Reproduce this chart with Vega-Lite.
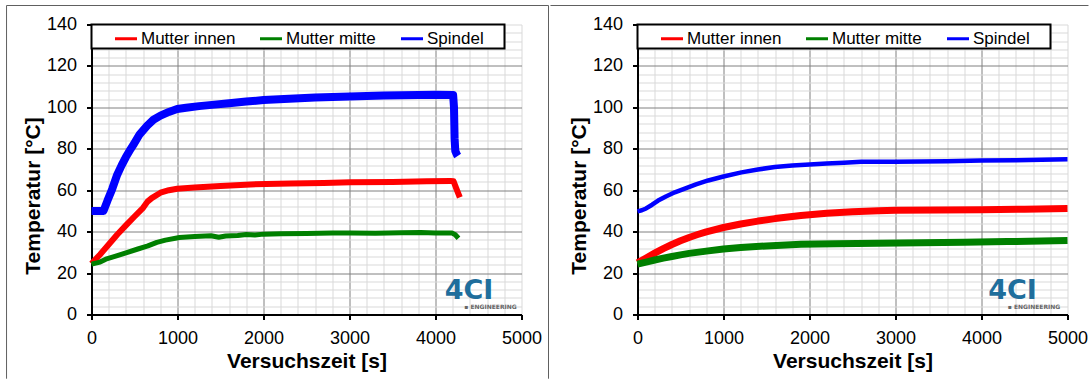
{
  "$schema": "https://vega.github.io/schema/vega-lite/v6.json",
  "background": "white",
  "padding": {"left": 5.5, "top": 4.5, "right": 0, "bottom": 0},
  "spacing": 0,
  "config": {
    "font": "Liberation Sans",
    "view": {"stroke": null},
    "axis": {
      "domainColor": "black", "domainWidth": 2,
      "tickColor": "black", "tickWidth": 2, "tickSize": 5,
      "labelFont": "Liberation Sans", "labelFontSize": 18, "labelColor": "black", "labelPadding": 10,
      "labelOverlap": false, "labelFlush": false, "labelBound": false,
      "titleFont": "Liberation Sans", "titleFontSize": 21, "titleFontWeight": "bold", "titleColor": "black",
      "gridWidth": 1, "gridOpacity": 1
    },
    "legend": {
      "fillColor": "white", "strokeColor": "black", "strokeWidth": 2, "padding": 1.5, "cornerRadius": 0,
      "labelFont": "Liberation Sans", "labelFontSize": 17, "labelColor": "black", "labelLimit": 300,
      "symbolType": "stroke", "symbolSize": 484, "symbolStrokeWidth": 3, "labelOffset": 2.5, "columnPadding": 18
    }
  },
  "resolve": {"scale": {"color": "independent"}, "legend": {"color": "independent"}},
  "datasets": {
    "links": [
      {"serie": "Spindel", "zeit": 0, "temp": 50}, {"serie": "Spindel", "zeit": 140, "temp": 50}, {"serie": "Spindel", "zeit": 186, "temp": 55}, {"serie": "Spindel", "zeit": 240, "temp": 60.5}, {"serie": "Spindel", "zeit": 299, "temp": 67.5}, {"serie": "Spindel", "zeit": 350, "temp": 72}, {"serie": "Spindel", "zeit": 400, "temp": 76}, {"serie": "Spindel", "zeit": 450, "temp": 79.5}, {"serie": "Spindel", "zeit": 492, "temp": 82.3}, {"serie": "Spindel", "zeit": 560, "temp": 87}, {"serie": "Spindel", "zeit": 648, "temp": 91.2}, {"serie": "Spindel", "zeit": 720, "temp": 94}, {"serie": "Spindel", "zeit": 802, "temp": 96}, {"serie": "Spindel", "zeit": 900, "temp": 97.8}, {"serie": "Spindel", "zeit": 996, "temp": 99.2}, {"serie": "Spindel", "zeit": 1100, "temp": 99.8}, {"serie": "Spindel", "zeit": 1250, "temp": 100.6}, {"serie": "Spindel", "zeit": 1400, "temp": 101.2}, {"serie": "Spindel", "zeit": 1600, "temp": 102}, {"serie": "Spindel", "zeit": 1800, "temp": 102.8}, {"serie": "Spindel", "zeit": 2000, "temp": 103.5}, {"serie": "Spindel", "zeit": 2300, "temp": 104.2}, {"serie": "Spindel", "zeit": 2600, "temp": 104.7}, {"serie": "Spindel", "zeit": 3000, "temp": 105.3}, {"serie": "Spindel", "zeit": 3400, "temp": 105.7}, {"serie": "Spindel", "zeit": 3800, "temp": 106}, {"serie": "Spindel", "zeit": 4000, "temp": 106.1}, {"serie": "Spindel", "zeit": 4205, "temp": 106}, {"serie": "Spindel", "zeit": 4215, "temp": 100}, {"serie": "Spindel", "zeit": 4222, "temp": 85}, {"serie": "Spindel", "zeit": 4230, "temp": 79}, {"serie": "Spindel", "zeit": 4250, "temp": 77}, {"serie": "Spindel", "zeit": 4258, "temp": 76.5},
      {"serie": "Mutter innen", "zeit": 0, "temp": 24.5}, {"serie": "Mutter innen", "zeit": 100, "temp": 29}, {"serie": "Mutter innen", "zeit": 200, "temp": 33.8}, {"serie": "Mutter innen", "zeit": 300, "temp": 38.6}, {"serie": "Mutter innen", "zeit": 400, "temp": 43}, {"serie": "Mutter innen", "zeit": 500, "temp": 47.3}, {"serie": "Mutter innen", "zeit": 600, "temp": 51.5}, {"serie": "Mutter innen", "zeit": 651, "temp": 54.5}, {"serie": "Mutter innen", "zeit": 700, "temp": 56.2}, {"serie": "Mutter innen", "zeit": 802, "temp": 58.8}, {"serie": "Mutter innen", "zeit": 900, "temp": 60}, {"serie": "Mutter innen", "zeit": 996, "temp": 60.7}, {"serie": "Mutter innen", "zeit": 1200, "temp": 61.3}, {"serie": "Mutter innen", "zeit": 1500, "temp": 62}, {"serie": "Mutter innen", "zeit": 1849, "temp": 62.8}, {"serie": "Mutter innen", "zeit": 2314, "temp": 63.3}, {"serie": "Mutter innen", "zeit": 2700, "temp": 63.5}, {"serie": "Mutter innen", "zeit": 3012, "temp": 63.8}, {"serie": "Mutter innen", "zeit": 3500, "temp": 64}, {"serie": "Mutter innen", "zeit": 3900, "temp": 64.3}, {"serie": "Mutter innen", "zeit": 4174, "temp": 64.5}, {"serie": "Mutter innen", "zeit": 4210, "temp": 64.3}, {"serie": "Mutter innen", "zeit": 4240, "temp": 61}, {"serie": "Mutter innen", "zeit": 4283, "temp": 56.5},
      {"serie": "Mutter mitte", "zeit": 0, "temp": 24.3}, {"serie": "Mutter mitte", "zeit": 100, "temp": 25.3}, {"serie": "Mutter mitte", "zeit": 166, "temp": 26.7}, {"serie": "Mutter mitte", "zeit": 300, "temp": 28.4}, {"serie": "Mutter mitte", "zeit": 410, "temp": 29.9}, {"serie": "Mutter mitte", "zeit": 530, "temp": 31.5}, {"serie": "Mutter mitte", "zeit": 656, "temp": 33.1}, {"serie": "Mutter mitte", "zeit": 760, "temp": 34.8}, {"serie": "Mutter mitte", "zeit": 860, "temp": 35.9}, {"serie": "Mutter mitte", "zeit": 1023, "temp": 37.2}, {"serie": "Mutter mitte", "zeit": 1200, "temp": 37.6}, {"serie": "Mutter mitte", "zeit": 1390, "temp": 38}, {"serie": "Mutter mitte", "zeit": 1480, "temp": 37.3}, {"serie": "Mutter mitte", "zeit": 1560, "temp": 37.9}, {"serie": "Mutter mitte", "zeit": 1700, "temp": 38.1}, {"serie": "Mutter mitte", "zeit": 1800, "temp": 38.6}, {"serie": "Mutter mitte", "zeit": 1900, "temp": 38.4}, {"serie": "Mutter mitte", "zeit": 2000, "temp": 38.8}, {"serie": "Mutter mitte", "zeit": 2203, "temp": 39}, {"serie": "Mutter mitte", "zeit": 2500, "temp": 39.1}, {"serie": "Mutter mitte", "zeit": 2800, "temp": 39.3}, {"serie": "Mutter mitte", "zeit": 3012, "temp": 39.4}, {"serie": "Mutter mitte", "zeit": 3300, "temp": 39.2}, {"serie": "Mutter mitte", "zeit": 3600, "temp": 39.5}, {"serie": "Mutter mitte", "zeit": 3830, "temp": 39.6}, {"serie": "Mutter mitte", "zeit": 4000, "temp": 39.4}, {"serie": "Mutter mitte", "zeit": 4195, "temp": 39.3}, {"serie": "Mutter mitte", "zeit": 4230, "temp": 38.5}, {"serie": "Mutter mitte", "zeit": 4267, "temp": 36.8}
    ],
    "rechts": [
      {"serie": "Spindel", "zeit": 0, "temp": 49.8}, {"serie": "Spindel", "zeit": 50, "temp": 50.3}, {"serie": "Spindel", "zeit": 100, "temp": 51.2}, {"serie": "Spindel", "zeit": 170, "temp": 53}, {"serie": "Spindel", "zeit": 240, "temp": 55}, {"serie": "Spindel", "zeit": 330, "temp": 57}, {"serie": "Spindel", "zeit": 434, "temp": 59}, {"serie": "Spindel", "zeit": 550, "temp": 60.8}, {"serie": "Spindel", "zeit": 680, "temp": 62.8}, {"serie": "Spindel", "zeit": 822, "temp": 64.7}, {"serie": "Spindel", "zeit": 1000, "temp": 66.6}, {"serie": "Spindel", "zeit": 1209, "temp": 68.6}, {"serie": "Spindel", "zeit": 1400, "temp": 70}, {"serie": "Spindel", "zeit": 1597, "temp": 71.2}, {"serie": "Spindel", "zeit": 1800, "temp": 71.9}, {"serie": "Spindel", "zeit": 2000, "temp": 72.4}, {"serie": "Spindel", "zeit": 2200, "temp": 72.9}, {"serie": "Spindel", "zeit": 2400, "temp": 73.3}, {"serie": "Spindel", "zeit": 2600, "temp": 73.7}, {"serie": "Spindel", "zeit": 2800, "temp": 73.8}, {"serie": "Spindel", "zeit": 3000, "temp": 73.8}, {"serie": "Spindel", "zeit": 3300, "temp": 73.9}, {"serie": "Spindel", "zeit": 3600, "temp": 74}, {"serie": "Spindel", "zeit": 4000, "temp": 74.3}, {"serie": "Spindel", "zeit": 4400, "temp": 74.5}, {"serie": "Spindel", "zeit": 4700, "temp": 74.7}, {"serie": "Spindel", "zeit": 5000, "temp": 75},
      {"serie": "Mutter innen", "zeit": 0, "temp": 25}, {"serie": "Mutter innen", "zeit": 100, "temp": 27.3}, {"serie": "Mutter innen", "zeit": 200, "temp": 29.6}, {"serie": "Mutter innen", "zeit": 300, "temp": 31.8}, {"serie": "Mutter innen", "zeit": 400, "temp": 33.8}, {"serie": "Mutter innen", "zeit": 500, "temp": 35.6}, {"serie": "Mutter innen", "zeit": 600, "temp": 37.2}, {"serie": "Mutter innen", "zeit": 700, "temp": 38.6}, {"serie": "Mutter innen", "zeit": 800, "temp": 39.9}, {"serie": "Mutter innen", "zeit": 1000, "temp": 42}, {"serie": "Mutter innen", "zeit": 1200, "temp": 43.7}, {"serie": "Mutter innen", "zeit": 1400, "temp": 45.1}, {"serie": "Mutter innen", "zeit": 1600, "temp": 46.3}, {"serie": "Mutter innen", "zeit": 1900, "temp": 47.8}, {"serie": "Mutter innen", "zeit": 2200, "temp": 48.9}, {"serie": "Mutter innen", "zeit": 2500, "temp": 49.6}, {"serie": "Mutter innen", "zeit": 2800, "temp": 50.1}, {"serie": "Mutter innen", "zeit": 3000, "temp": 50.3}, {"serie": "Mutter innen", "zeit": 3500, "temp": 50.4}, {"serie": "Mutter innen", "zeit": 4000, "temp": 50.6}, {"serie": "Mutter innen", "zeit": 4500, "temp": 50.8}, {"serie": "Mutter innen", "zeit": 5000, "temp": 51.2},
      {"serie": "Mutter mitte", "zeit": 0, "temp": 24.3}, {"serie": "Mutter mitte", "zeit": 100, "temp": 25.3}, {"serie": "Mutter mitte", "zeit": 200, "temp": 26.3}, {"serie": "Mutter mitte", "zeit": 300, "temp": 27.2}, {"serie": "Mutter mitte", "zeit": 400, "temp": 28}, {"serie": "Mutter mitte", "zeit": 500, "temp": 28.8}, {"serie": "Mutter mitte", "zeit": 600, "temp": 29.5}, {"serie": "Mutter mitte", "zeit": 800, "temp": 30.6}, {"serie": "Mutter mitte", "zeit": 1000, "temp": 31.6}, {"serie": "Mutter mitte", "zeit": 1200, "temp": 32.3}, {"serie": "Mutter mitte", "zeit": 1500, "temp": 33.1}, {"serie": "Mutter mitte", "zeit": 1900, "temp": 33.9}, {"serie": "Mutter mitte", "zeit": 2300, "temp": 34.2}, {"serie": "Mutter mitte", "zeit": 2800, "temp": 34.4}, {"serie": "Mutter mitte", "zeit": 3300, "temp": 34.6}, {"serie": "Mutter mitte", "zeit": 3800, "temp": 34.9}, {"serie": "Mutter mitte", "zeit": 4300, "temp": 35.2}, {"serie": "Mutter mitte", "zeit": 4700, "temp": 35.5}, {"serie": "Mutter mitte", "zeit": 5000, "temp": 35.7}
    ]
  },
  "hconcat": [
    {
      "width": 430, "height": 290,
      "layer": [
        {
          "data": {"values": [{}]},
          "mark": {"type": "rule", "color": "#606060", "strokeWidth": 1},
          "encoding": {
            "x": {"datum": -988, "type": "quantitative", "scale": {"domain": [0, 5000], "nice": false}},
            "y": {"datum": 149.17, "type": "quantitative", "scale": {"domain": [0, 140], "nice": false}},
            "y2": {"datum": -31}
          }
        },
        {
          "data": {"values": [{}]},
          "mark": {"type": "rule", "color": "#606060", "strokeWidth": 1},
          "encoding": {
            "x": {"datum": -988, "type": "quantitative", "scale": {"domain": [0, 5000], "nice": false}},
            "x2": {"datum": 5314},
            "y": {"datum": 149.17, "type": "quantitative", "scale": {"domain": [0, 140], "nice": false}}
          }
        },
        {
          "data": {"values": [{}]},
          "mark": {"type": "rule", "color": "#606060", "strokeWidth": 1},
          "encoding": {
            "x": {"datum": 5314, "type": "quantitative", "scale": {"domain": [0, 5000], "nice": false}},
            "y": {"datum": 149.17, "type": "quantitative", "scale": {"domain": [0, 140], "nice": false}},
            "y2": {"datum": -31}
          }
        },
        {
          "data": {"name": "links"},
          "mark": {"type": "line", "strokeJoin": "round"},
          "encoding": {
            "x": {"field": "zeit", "type": "quantitative", "scale": {"domain": [0, 5000], "nice": false},
              "axis": {"title": "Versuchszeit [s]", "titlePadding": 3, "labelOverlap": false, "grid": true, "tickCount": 100,
                "values": [0,200,400,600,800,1000,1200,1400,1600,1800,2000,2200,2400,2600,2800,3000,3200,3400,3600,3800,4000,4200,4400,4600,4800,5000],
                "labelExpr": "datum.value % 1000 === 0 ? '' + datum.value : ''",
                "tickOpacity": {"condition": {"test": "datum.value % 1000 === 0", "value": 1}, "value": 0},
                "gridColor": {"condition": {"test": "datum.value % 1000 === 0 && datum.value > 0 && datum.value < 5000", "value": "#808080"}, "value": "#d9d9d9"}}},
            "y": {"field": "temp", "type": "quantitative", "scale": {"domain": [0, 140], "nice": false},
              "axis": {"title": "Temperatur [°C]", "titleX": -48, "titleY": 171, "labelOverlap": false, "grid": true, "tickCount": 100,
                "values": [0,4,8,12,16,20,24,28,32,36,40,44,48,52,56,60,64,68,72,76,80,84,88,92,96,100,104,108,112,116,120,124,128,132,136,140],
                "labelExpr": "datum.value % 20 === 0 ? '' + datum.value : ''",
                "tickOpacity": {"condition": {"test": "datum.value % 20 === 0", "value": 1}, "value": 0},
                "gridColor": {"condition": {"test": "datum.value % 20 === 0 && datum.value > 0 && datum.value < 140", "value": "#808080"}, "value": "#d9d9d9"}}},
            "color": {"field": "serie", "type": "nominal",
              "scale": {"domain": ["Mutter innen", "Mutter mitte", "Spindel"], "range": ["#ff0000", "#008000", "#0000ff"]},
              "legend": {"orient": "none", "legendX": 0, "legendY": 0, "direction": "horizontal", "columns": 3,
                "title": " ", "titleOrient": "left", "titleFontSize": 1, "titlePadding": 20.5,
                "labelExpr": "datum.label === 'Spindel' ? 'Spindel\u00a0\u00a0\u00a0\u00a0\u200b' : datum.label"}},
            "strokeWidth": {"condition": [{"test": "datum.serie === 'Spindel'", "value": 8}, {"test": "datum.serie === 'Mutter innen'", "value": 6}], "value": 5}
          }
        },
        {
          "data": {"values": [{}]},
          "mark": {"type": "text", "font": "DejaVu Sans", "fontWeight": "bold", "fontSize": 27, "color": "#1f6e9c", "align": "center", "baseline": "alphabetic"},
          "encoding": {
            "x": {"datum": 4390, "type": "quantitative", "scale": {"domain": [0, 5000], "nice": false}},
            "y": {"datum": 7.5, "type": "quantitative", "scale": {"domain": [0, 140], "nice": false}},
            "text": {"value": "4CI"}
          }
        },
        {
          "data": {"values": [{}]},
          "mark": {"type": "text", "font": "DejaVu Sans", "fontWeight": "bold", "fontSize": 6, "color": "#666666", "align": "center", "baseline": "middle"},
          "encoding": {
            "x": {"datum": 4640, "type": "quantitative", "scale": {"domain": [0, 5000], "nice": false}},
            "y": {"datum": 3.4, "type": "quantitative", "scale": {"domain": [0, 140], "nice": false}},
            "text": {"value": "▪ ENGINEERING"}
          }
        }
      ]
    },
    {
      "width": 430, "height": 290,
      "layer": [
        {
          "data": {"values": [{}]},
          "mark": {"type": "rule", "color": "#606060", "strokeWidth": 1},
          "encoding": {
            "x": {"datum": -1012, "type": "quantitative", "scale": {"domain": [0, 5000], "nice": false}},
            "x2": {"datum": 5244},
            "y": {"datum": 149.17, "type": "quantitative", "scale": {"domain": [0, 140], "nice": false}}
          }
        },
        {
          "data": {"name": "rechts"},
          "mark": {"type": "line", "strokeJoin": "round"},
          "encoding": {
            "x": {"field": "zeit", "type": "quantitative", "scale": {"domain": [0, 5000], "nice": false},
              "axis": {"title": "Versuchszeit [s]", "titlePadding": 3, "labelOverlap": false, "grid": true, "tickCount": 100,
                "values": [0,200,400,600,800,1000,1200,1400,1600,1800,2000,2200,2400,2600,2800,3000,3200,3400,3600,3800,4000,4200,4400,4600,4800,5000],
                "labelExpr": "datum.value % 1000 === 0 ? '' + datum.value : ''",
                "tickOpacity": {"condition": {"test": "datum.value % 1000 === 0", "value": 1}, "value": 0},
                "gridColor": {"condition": {"test": "datum.value % 1000 === 0 && datum.value > 0 && datum.value < 5000", "value": "#808080"}, "value": "#d9d9d9"}}},
            "y": {"field": "temp", "type": "quantitative", "scale": {"domain": [0, 140], "nice": false},
              "axis": {"title": "Temperatur [°C]", "titleX": -48, "titleY": 171, "labelOverlap": false, "grid": true, "tickCount": 100,
                "values": [0,4,8,12,16,20,24,28,32,36,40,44,48,52,56,60,64,68,72,76,80,84,88,92,96,100,104,108,112,116,120,124,128,132,136,140],
                "labelExpr": "datum.value % 20 === 0 ? '' + datum.value : ''",
                "tickOpacity": {"condition": {"test": "datum.value % 20 === 0", "value": 1}, "value": 0},
                "gridColor": {"condition": {"test": "datum.value % 20 === 0 && datum.value > 0 && datum.value < 140", "value": "#808080"}, "value": "#d9d9d9"}}},
            "color": {"field": "serie", "type": "nominal",
              "scale": {"domain": ["Mutter innen", "Mutter mitte", "Spindel"], "range": ["#ff0000", "#008000", "#0000ff"]},
              "legend": {"orient": "none", "legendX": 0, "legendY": 0, "direction": "horizontal", "columns": 3,
                "title": " ", "titleOrient": "left", "titleFontSize": 1, "titlePadding": 20.5,
                "labelExpr": "datum.label === 'Spindel' ? 'Spindel\u00a0\u00a0\u00a0\u00a0\u200b' : datum.label"}},
            "strokeWidth": {"condition": [{"test": "datum.serie === 'Spindel'", "value": 4.5}], "value": 7}
          }
        },
        {
          "data": {"values": [{}]},
          "mark": {"type": "text", "font": "DejaVu Sans", "fontWeight": "bold", "fontSize": 27, "color": "#1f6e9c", "align": "center", "baseline": "alphabetic"},
          "encoding": {
            "x": {"datum": 4360, "type": "quantitative", "scale": {"domain": [0, 5000], "nice": false}},
            "y": {"datum": 7.5, "type": "quantitative", "scale": {"domain": [0, 140], "nice": false}},
            "text": {"value": "4CI"}
          }
        },
        {
          "data": {"values": [{}]},
          "mark": {"type": "text", "font": "DejaVu Sans", "fontWeight": "bold", "fontSize": 6, "color": "#666666", "align": "center", "baseline": "middle"},
          "encoding": {
            "x": {"datum": 4610, "type": "quantitative", "scale": {"domain": [0, 5000], "nice": false}},
            "y": {"datum": 3.4, "type": "quantitative", "scale": {"domain": [0, 140], "nice": false}},
            "text": {"value": "▪ ENGINEERING"}
          }
        }
      ]
    }
  ]
}
